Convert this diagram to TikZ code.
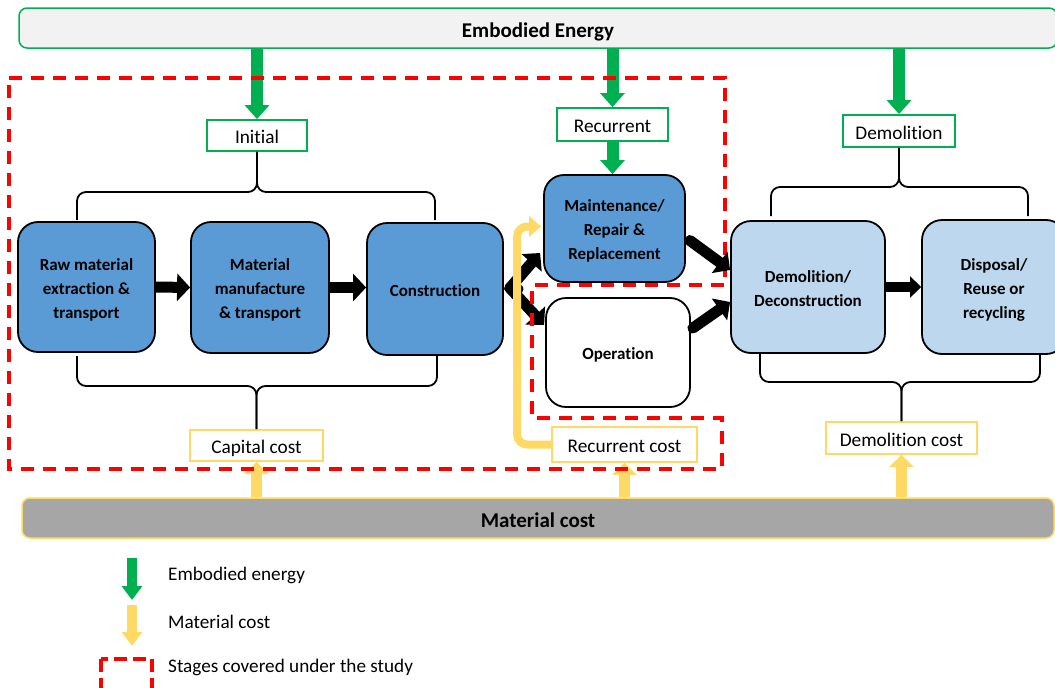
\documentclass[tikz,border=0pt]{standalone}
\usepackage{fontspec}
\setmainfont{Carlito}[Ligatures=NoCommon]
\usetikzlibrary{arrows.meta,calc}
\definecolor{boxblue}{HTML}{5B9BD5}
\definecolor{lightblue}{HTML}{BDD7EE}
\definecolor{eegreen}{HTML}{00B050}
\definecolor{costyellow}{HTML}{FFD966}
\definecolor{studyred}{HTML}{FF0000}
\definecolor{bargray}{HTML}{A6A6A6}
\definecolor{barlight}{HTML}{F2F2F2}
% strut on the first line of a multi-line stage text
\newcommand{\stagestrut}{\rule{0pt}{1.06em}}

\begin{document}
\begin{tikzpicture}[x=1pt,y=-1pt,
  stage/.style={draw=black, line width=1.8pt, rounded corners=20pt, inner sep=0pt,
    align=center, font=\fontsize{17}{24}\selectfont\bfseries,
    execute at begin node={\rule{0pt}{1.06em}},
    execute at end node={\rule[-0.2em]{0pt}{0pt}}},
  eelabel/.style={draw=eegreen, line width=1.8pt, fill=white, inner sep=0pt,
    font=\fontsize{19.3}{22}\selectfont, text height=18.3pt, text depth=1.9pt},
  costlabel/.style={draw=costyellow, line width=1.8pt, fill=white, inner sep=0pt,
    font=\fontsize{19.3}{22}\selectfont, text height=18.3pt, text depth=1.9pt},
  topbar/.style={rounded corners=8pt, line width=1.5pt, inner sep=0pt,
    font=\fontsize{21}{24}\selectfont\bfseries, text height=21pt, text depth=1.3pt},
  eearrow/.style={draw=eegreen, line width=12pt, -{Triangle[width=24pt,length=14pt]}},
  costarrow/.style={draw=costyellow, line width=11pt, -{Triangle[width=24pt,length=12pt]}},
  flow/.style={draw=black, line width=11pt, -{Triangle[width=27pt,length=13pt]}},
  branch/.style={draw=black, line width=11pt, line cap=round, -{Triangle[width=26pt,length=13pt]}},
  brace/.style={draw=black, line width=1.8pt, rounded corners=9pt},
  study/.style={draw=studyred, line width=4pt, dash pattern=on 13pt off 9pt},
  legendtext/.style={anchor=west, inner sep=0pt, font=\fontsize{19.2}{22}\selectfont}
]
\useasboundingbox (0,0) rectangle (1055,688);

% Energy and cost bars
\node[topbar, draw=eegreen, fill=barlight, minimum width=1038pt, minimum height=40pt]
  (ebar) at (538,28) {Embodied Energy};
\node[topbar, draw=costyellow, fill=bargray, minimum width=1032pt, minimum height=40pt]
  (mbar) at (538,518) {Material cost};

% Life-cycle stages
\node[stage, fill=boxblue, minimum width=137pt, minimum height=130pt] (raw) at (86.5,287)
  {\stagestrut Raw material\\extraction \&\\transport};
\node[stage, fill=boxblue, minimum width=138pt, minimum height=131pt] (mat) at (260,287.5)
  {\stagestrut Material\\manufacture\\\& transport};
\node[stage, fill=boxblue, minimum width=136pt, minimum height=132pt] (cons) at (435,289)
  {Construction};
\node[stage, fill=boxblue, minimum width=141pt, minimum height=107pt] (maint) at (614.5,228.5)
  {\stagestrut Maintenance/\\Repair \&\\Replacement};
\node[stage, fill=white, minimum width=144pt, minimum height=109pt] (oper) at (618,352.5)
  {Operation};
\node[stage, fill=lightblue, minimum width=154pt, minimum height=132pt] (demo) at (808,287)
  {\stagestrut Demolition/\\Deconstruction};
\node[stage, fill=lightblue, minimum width=144pt, minimum height=134pt] (disp) at (994,287)
  {\stagestrut Disposal/\\Reuse or\\recycling};

% Energy labels
\node[eelabel, minimum width=100pt, minimum height=31pt] (init) at (257,135.5) {Initial};
\node[eelabel, minimum width=111pt, minimum height=33pt] (rec) at (612.5,124.5) {Recurrent};
\node[eelabel, minimum width=112pt, minimum height=32pt] (dem) at (899,131) {Demolition};

% Cost labels
\node[costlabel, minimum width=133pt, minimum height=31pt] (cap) at (256.5,445.5) {Capital cost};
\node[costlabel, minimum width=145pt, minimum height=35pt] (rcost) at (624.5,444.5) {Recurrent cost};
\node[costlabel, minimum width=151pt, minimum height=32pt] (dcost) at (901.5,438) {Demolition cost};

% Braces grouping the stages
\draw[brace] (77,220) -- (77,192) -| (init.south);
\draw[brace] (435,220) -- (435,192) -| (init.south);
\draw[brace] (77,356) -- (77,386) -| (cap.north);
\draw[brace] (437,356) -- (437,386) -| (cap.north);
\draw[brace] (771,216) -- (771,187) -| (dem.south);
\draw[brace] (1028,216) -- (1028,187) -| (dem.south);
\draw[brace] (760,354) -- (760,382) -| (dcost.north);
\draw[brace] (1040,354) -- (1040,382) -| (dcost.north);

% Embodied energy inputs
\draw[eearrow] (ebar.south -| init.north) -- (init.north);
\draw[eearrow] (ebar.south -| rec.north) -- (rec.north);
\draw[eearrow] (ebar.south -| dem.north) -- (dem.north);
\draw[eearrow] (rec.south) -- (rec.south |- maint.north);

% Material cost inputs
\draw[costarrow] (mbar.north -| cap.south) -- (cap.south);
\draw[costarrow] (mbar.north -| rcost.south) -- (rcost.south);
\draw[costarrow] (mbar.north -| dcost.south) -- (dcost.south);

% Stage flow
\draw[flow] (raw.east) -- (mat.west);
\draw[flow] (mat.east) -- (mat.east -| cons.west);
\draw[branch] ($(cons.east)+(6,-1)$) -- ($(maint.west)+(-3,24.5)$);
\draw[branch] ($(cons.east)+(6,-1)$) -- ($(oper.west)+(-1,-27.5)$);
\draw[branch] ($(cons.east)+(14,0)$) -- (cons.east);

% Recurrent cost feeding maintenance
\draw[draw=costyellow, line width=8pt, rounded corners=10pt, -{Triangle[width=20pt,length=12pt]}]
  (rcost.west) -| ($(maint.west)+(-26,-2)$) -- ($(maint.west)+(-2,-2)$);

% Boundary of the studied stages
\draw[study] (9,78) -- (725,78) -- (725,285) -- (532,285) -- (532,418) -- (722,418)
  -- (722,469) -- (9,469) -- cycle;

% End of life
\draw[branch] ($(maint.east)+(4,12)$) -- ($(demo.west)+(0,-17)$);
\draw[branch] ($(oper.east)+(2,-24.5)$) -- ($(demo.west)+(0,15)$);
\draw[draw=black, line width=10pt, -{Triangle[width=21pt,length=11pt]}] (demo.east) -- (disp.west);

% Legend
\coordinate (lg1) at (132,558);
\coordinate (lg2) at (132,600);
\coordinate (ly1) at (132,605);
\coordinate (ly2) at (132,646);
\draw[draw=eegreen, line width=10pt, -{Triangle[width=20pt,length=14pt]}] (lg1) -- (lg2);
\draw[draw=costyellow, line width=10pt, -{Triangle[width=20pt,length=14pt]}] (ly1) -- (ly2);
\draw[study, dash pattern=on 13pt off 6pt] (101,659) rectangle (152,697);
\node[legendtext] (lt1) at (168,575) {Embodied energy};
\node[legendtext] (lt2) at (168,622) {Material cost};
\node[legendtext] (lt3) at (168,667) {Stages covered under the study};
\end{tikzpicture}
\end{document}
